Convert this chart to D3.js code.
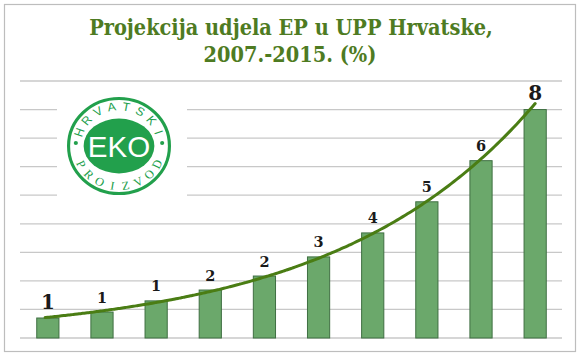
<!DOCTYPE html>
<html>
<head>
<meta charset="utf-8">
<script src="https://cdn.jsdelivr.net/npm/d3@7/dist/d3.min.js"></script>
<style>
  html, body { margin: 0; padding: 0; background: #fff; }
  svg { display: block; }
</style>
</head>
<body>
<script>
// ---- data ----
const titleLines = ["Projekcija udjela EP u UPP Hrvatske,", "2007.-2015. (%)"];
const categories = ["2006", "2007", "2008", "2009", "2010", "2011", "2012", "2013", "2014", "2015"];
const values = [0.70, 0.91, 1.30, 1.68, 2.17, 2.84, 3.68, 4.77, 6.21, 8.00];
const valueLabels = ["1", "1", "1", "2", "2", "3", "4", "5", "6", "8"];
const gridTicks = [0, 1, 2, 3, 4, 5, 6, 7, 8, 9];
const logoTop = "HRVATSKI";
const logoBottom = "PROIZVOD";
const logoCenter = "EKO";

// ---- layout ----
const W = 580, H = 357;
const svg = d3.select("body").append("svg").attr("width", W).attr("height", H);

svg.append("rect").attr("x", 0).attr("y", 0).attr("width", W).attr("height", H).attr("fill", "#fff");
svg.append("rect").attr("x", 4.5).attr("y", 4.5).attr("width", 571).attr("height", 347)
  .attr("fill", "#fff").attr("stroke", "#bdbdbd").attr("stroke-width", 1.2);

const x = d3.scaleBand().domain(categories).range([20, 562]).paddingInner(0.59).paddingOuter(0.3);
const y = d3.scaleLinear().domain([0, 9]).range([338, 81]);

// title (condensed bold serif)
const titleColor = "#4e7b22";
const tfs = 21.5;
const t1 = svg.append("text").attr("text-anchor", "middle")
  .attr("font-family", "DejaVu Serif").attr("font-weight", "bold").attr("font-size", tfs)
  .attr("fill", titleColor).text(titleLines[0]);
const sx = 404 / t1.node().getComputedTextLength();
t1.attr("transform", `translate(291,35) scale(${sx},1)`);
svg.append("text").attr("text-anchor", "middle")
  .attr("transform", `translate(290,62) scale(${sx},1)`)
  .attr("font-family", "DejaVu Serif").attr("font-weight", "bold").attr("font-size", tfs)
  .attr("fill", titleColor).text(titleLines[1]);

// gridlines
svg.append("g").selectAll("line").data(gridTicks).join("line")
  .attr("x1", 20).attr("x2", 562)
  .attr("y1", d => y(d)).attr("y2", d => y(d))
  .attr("stroke", "#c8c8c8").attr("stroke-width", 1.3);

// logo background (breaks gridlines)
svg.append("rect").attr("x", 57).attr("y", 90).attr("width", 130).attr("height", 112).attr("fill", "#fff");

// logo
const green = "#22a04c";
const logo = svg.append("g").attr("transform", "translate(119,146) scale(1.04,0.98)");
logo.append("circle").attr("r", 48.5).attr("fill", "#fff").attr("stroke", green).attr("stroke-width", 3);
logo.append("ellipse").attr("rx", 34).attr("ry", 28).attr("fill", green);
logo.append("text").attr("y", 11).attr("text-anchor", "middle")
  .attr("font-family", "Liberation Sans").attr("font-size", 31).attr("fill", "#fff")
  .attr("textLength", 60).attr("lengthAdjust", "spacingAndGlyphs").text(logoCenter);
// curved ring letters, placed one by one
const deg = Math.PI / 180;
const topChars = logoTop.split("");
const rT = 36.5, topStart = -160, topStep = 140 / (topChars.length - 1);
logo.append("g").selectAll("text").data(topChars).join("text")
  .attr("transform", (c, i) => {
    const th = topStart + i * topStep;
    return `translate(${rT * Math.cos(th * deg)},${rT * Math.sin(th * deg)}) rotate(${th + 90})`;
  })
  .attr("text-anchor", "middle")
  .attr("font-family", "Liberation Sans").attr("font-size", 12).attr("fill", green)
  .text(c => c);
const botChars = logoBottom.split("");
const rB = 45, botStart = 153, botStep = -126 / (botChars.length - 1);
logo.append("g").selectAll("text").data(botChars).join("text")
  .attr("transform", (c, i) => {
    const th = botStart + i * botStep;
    return `translate(${rB * Math.cos(th * deg)},${rB * Math.sin(th * deg)}) rotate(${th - 90})`;
  })
  .attr("text-anchor", "middle")
  .attr("font-family", "Liberation Serif").attr("font-size", 12).attr("fill", green)
  .text(c => c);
logo.append("circle").attr("cx", -41.5).attr("cy", -3).attr("r", 2).attr("fill", green);
logo.append("circle").attr("cx", 41.5).attr("cy", -3).attr("r", 2).attr("fill", green);

// bars
svg.append("g").selectAll("rect").data(values).join("rect")
  .attr("x", (d, i) => x(categories[i]) + 0.5)
  .attr("y", d => y(d))
  .attr("width", x.bandwidth())
  .attr("height", d => y(0) - y(d))
  .attr("fill", "#6ba86b").attr("stroke", "#3f6f42").attr("stroke-width", 1);

// exponential trendline (least squares on ln values)
const n = values.length;
const xs = d3.range(n), ls = values.map(Math.log);
const mx = d3.mean(xs), my = d3.mean(ls);
const b = d3.sum(xs, (xi, i) => (xi - mx) * (ls[i] - my)) / d3.sum(xs, xi => (xi - mx) ** 2);
const a = my - b * mx;
const cx = i => x(categories[0]) + x.bandwidth() / 2 + i * x.step();
const trend = d3.range(-0.05, n - 1 + 0.001, 0.05).map(i => [cx(i) + 0.5, y(Math.exp(a + b * i))]);
svg.append("path").attr("d", d3.line().curve(d3.curveBasis)(trend))
  .attr("fill", "none").attr("stroke", "#4a7d14").attr("stroke-width", 3).attr("stroke-linecap", "round");

// labels
svg.append("g").selectAll("text").data(values).join("text")
  .attr("x", (d, i) => x(categories[i]) + x.bandwidth() / 2 + 0.5)
  .attr("y", d => y(d) - 9.5)
  .attr("text-anchor", "middle")
  .attr("font-family", "DejaVu Serif").attr("font-weight", "bold")
  .attr("font-size", (d, i) => (i === 0 || i === n - 1) ? 20 : 14.5)
  .attr("fill", "#1a1a1a")
  .text((d, i) => valueLabels[i]);
</script>
</body>
</html>
